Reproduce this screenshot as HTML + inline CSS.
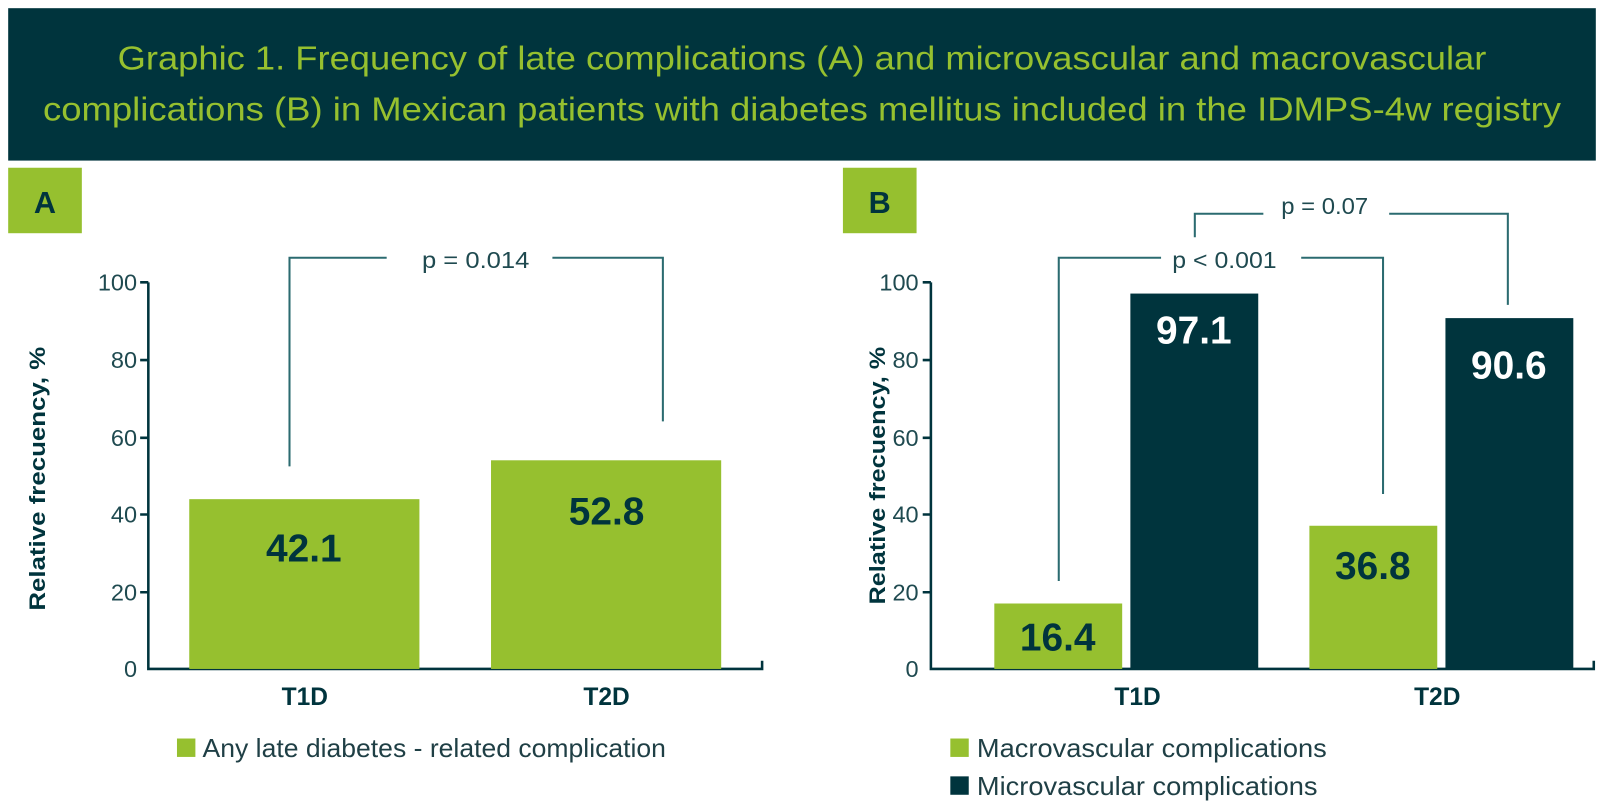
<!DOCTYPE html>
<html><head><meta charset="utf-8"><style>
body{margin:0;background:#fff;width:1604px;height:805px;overflow:hidden}
</style></head><body>
<svg width="1604" height="805" viewBox="0 0 1568 787" preserveAspectRatio="none" xmlns="http://www.w3.org/2000/svg" font-family="'Liberation Sans', sans-serif">
<rect x="0" y="0" width="1568" height="787" fill="#fff"/>
<rect x="8" y="8" width="1552" height="149" fill="#00343d"/>
<text x="784" y="68" text-anchor="middle" font-size="33" fill="#96c02f" textLength="1338" lengthAdjust="spacingAndGlyphs">Graphic 1. Frequency of late complications (A) and microvascular and macrovascular</text>
<text x="784" y="118" text-anchor="middle" font-size="33" fill="#96c02f" textLength="1484" lengthAdjust="spacingAndGlyphs">complications (B) in Mexican patients with diabetes mellitus included in the IDMPS-4w registry</text>
<rect x="8" y="164" width="72" height="64" fill="#96c02f"/>
<text x="44" y="208" text-anchor="middle" font-size="30" font-weight="bold" fill="#00343d">A</text>
<rect x="824" y="164" width="72" height="64" fill="#96c02f"/>
<text x="860" y="208" text-anchor="middle" font-size="30" font-weight="bold" fill="#00343d">B</text>
<g font-family="'Liberation Sans Narrow','Liberation Sans',sans-serif" font-size="23" fill="#1f4a50" text-anchor="end">
<text x="134" y="284">100</text><text x="134" y="360">80</text><text x="134" y="436">60</text><text x="134" y="511">40</text><text x="134" y="587">20</text><text x="134" y="662">0</text>
<text x="898" y="284">100</text><text x="898" y="360">80</text><text x="898" y="436">60</text><text x="898" y="511">40</text><text x="898" y="587">20</text><text x="898" y="662">0</text>
</g>
<g stroke="#00343d" stroke-width="2.5" fill="none">
<path d="M145 276V654H745V646"/>
<path d="M137 276H145M137 352H145M137 428H145M137 503H145M137 579H145"/>
<path d="M910 276V654H1558V646"/>
<path d="M902 276H910M902 352H910M902 428H910M902 503H910M902 579H910"/>
</g>
<rect x="185" y="488" width="225" height="166" fill="#96c02f"/>
<rect x="480" y="450" width="225" height="204" fill="#96c02f"/>
<rect x="972" y="590" width="125" height="64" fill="#96c02f"/>
<rect x="1105" y="287" width="125" height="367" fill="#00343d"/>
<rect x="1280" y="514" width="125" height="140" fill="#96c02f"/>
<rect x="1413" y="311" width="125" height="343" fill="#00343d"/>
<g font-family="'Liberation Sans Narrow','Liberation Sans',sans-serif" font-size="38" font-weight="bold" text-anchor="middle">
<text x="297" y="549" fill="#00343d">42.1</text>
<text x="593" y="513" fill="#00343d">52.8</text>
<text x="1034" y="636" fill="#00343d">16.4</text>
<text x="1167" y="336" fill="#fff">97.1</text>
<text x="1342" y="566" fill="#00343d">36.8</text>
<text x="1475" y="370" fill="#fff">90.6</text>
</g>
<g stroke="#2b6b70" stroke-width="2" fill="none">
<path d="M283 456V252H378M540 252H648V412"/>
<path d="M1035 568V252H1135M1272 252H1352V483"/>
<path d="M1168 232V209H1235M1358 209H1474V298"/>
</g>
<g font-family="'Liberation Sans Narrow','Liberation Sans',sans-serif" font-size="23" fill="#1f4a50" text-anchor="middle">
<text x="465" y="262" textLength="105" lengthAdjust="spacingAndGlyphs">p = 0.014</text>
<text x="1197" y="262" textLength="102" lengthAdjust="spacingAndGlyphs">p &lt; 0.001</text>
<text x="1295" y="209" textLength="85" lengthAdjust="spacingAndGlyphs">p = 0.07</text>
</g>
<g font-size="24" font-weight="bold" fill="#00343d" text-anchor="middle">
<text x="298" y="689">T1D</text><text x="593" y="689">T2D</text>
<text x="1112" y="689">T1D</text><text x="1405" y="689">T2D</text>
</g>
<g font-size="22" font-weight="bold" fill="#00343d" text-anchor="middle">
<text transform="translate(44,468) rotate(-90)" textLength="258" lengthAdjust="spacingAndGlyphs">Relative frecuency, %</text>
<text transform="translate(865,465) rotate(-90)" textLength="252" lengthAdjust="spacingAndGlyphs">Relative frecuency, %</text>
</g>
<rect x="173" y="722" width="18" height="18" fill="#96c02f"/>
<text x="198" y="740" font-size="25" fill="#1f3f45" textLength="453" lengthAdjust="spacingAndGlyphs">Any late diabetes - related complication</text>
<rect x="929" y="722" width="18" height="18" fill="#96c02f"/>
<text x="955" y="740" font-size="25" fill="#1f3f45" textLength="342" lengthAdjust="spacingAndGlyphs">Macrovascular complications</text>
<rect x="929" y="759" width="18" height="18" fill="#00343d"/>
<text x="955" y="777" font-size="25" fill="#1f3f45" textLength="333" lengthAdjust="spacingAndGlyphs">Microvascular complications</text>
</svg>
</body></html>
